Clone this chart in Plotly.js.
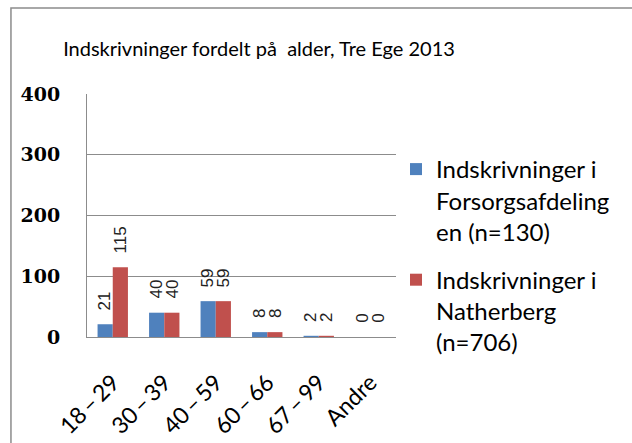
<!DOCTYPE html>
<html>
<head>
<meta charset="utf-8">
<script src="https://cdn.plot.ly/plotly-3.0.1.min.js"></script>
<style>html,body{margin:0;padding:0;background:#fff;}#chart{width:632px;height:443px;}</style>
</head>
<body>
<div id="chart"></div>
<script>
var categories = ["18\u2009–\u200929", "30\u2009–\u200939", "40\u2009–\u200959", "60\u2009–\u200966", "67\u2009–\u200999", "Andre"];
var seriesNames = ["Indskrivninger i<br>Forsorgsafdeling<br>en (n=130)", "Indskrivninger i<br>Natherberg<br>(n=706)"];
var forsorg = [21, 40, 59, 8, 2, 0];
var natherberg = [115, 40, 59, 8, 2, 0];
var yTicks = [0, 100, 200, 300, 400];
var colors = ["#4F81BD", "#C0504D"];

var series = [forsorg, natherberg];
var traces = series.map(function (vals, i) {
  return {
    type: "bar",
    name: seriesNames[i],
    legendgroup: "g" + i,
    x: categories,
    y: vals,
    marker: {color: colors[i]},
    hoverinfo: "none"
  };
});

var annotations = [];
series.forEach(function (vals, i) {
  vals.forEach(function (v, j) {
    annotations.push({
      x: categories[j], y: v, xref: "x", yref: "y",
      text: String(v), showarrow: false, textangle: -90,
      xanchor: "center", yanchor: "bottom",
      xshift: i === 0 ? -8 : 8, yshift: 12,
      font: {family: "Liberation Sans, Arial, sans-serif", size: 17, color: "#222"}
    });
  });
});

var layout = {
  width: 632, height: 443,
  margin: {l: 87, r: 224, t: 94, b: 106},
  paper_bgcolor: "#ffffff", plot_bgcolor: "#ffffff",
  title: {
    text: "Indskrivninger fordelt på  alder, Tre Ege 2013",
    x: 259 / 632, xanchor: "center", xref: "container",
    y: 1 - 49 / 443, yanchor: "middle", yref: "container",
    font: {family: "Lato, Carlito, sans-serif", size: 20, color: "#000"}
  },
  bargap: 0.41, bargroupgap: 0,
  barmode: "group",
  xaxis: {
    type: "category",
    tickangle: -45,
    showline: true, linecolor: "#8c8c8c", linewidth: 1,
    showgrid: false, ticks: "", ticklabelstandoff: 22,
    tickfont: {family: "Lato, Carlito, sans-serif", size: 23, color: "#000"},
    fixedrange: true
  },
  yaxis: {
    range: [0, 400],
    tickvals: yTicks, ticktext: yTicks.map(String),
    showline: true, linecolor: "#8c8c8c", linewidth: 1,
    showgrid: true, gridcolor: "#8c8c8c", gridwidth: 1,
    zeroline: false, ticks: "", ticklabelstandoff: 22,
    tickfont: {family: "DejaVu Serif, serif", size: 19, color: "#000", weight: "bold"},
    fixedrange: true
  },
  showlegend: true,
  legend: {
    xref: "container", yref: "container",
    x: 396 / 632, xanchor: "left",
    y: 1 - 147 / 443, yanchor: "top",
    valign: "top", traceorder: "grouped",
    font: {family: "Lato, Carlito, sans-serif", size: 24, color: "#000"},
    bgcolor: "rgba(0,0,0,0)", tracegroupgap: 14
  },
  annotations: annotations,
  shapes: [{
    type: "rect", xref: "paper", yref: "paper",
    x0: (8 - 87) / 321, x1: 2.5, y0: (337 - 8) / 243, y1: -1,
    line: {color: "#8c8c8c", width: 1.5}, fillcolor: "rgba(0,0,0,0)", layer: "below"
  }]
};

Plotly.newPlot("chart", traces, layout, {displayModeBar: false, staticPlot: true});
</script>
</body>
</html>
